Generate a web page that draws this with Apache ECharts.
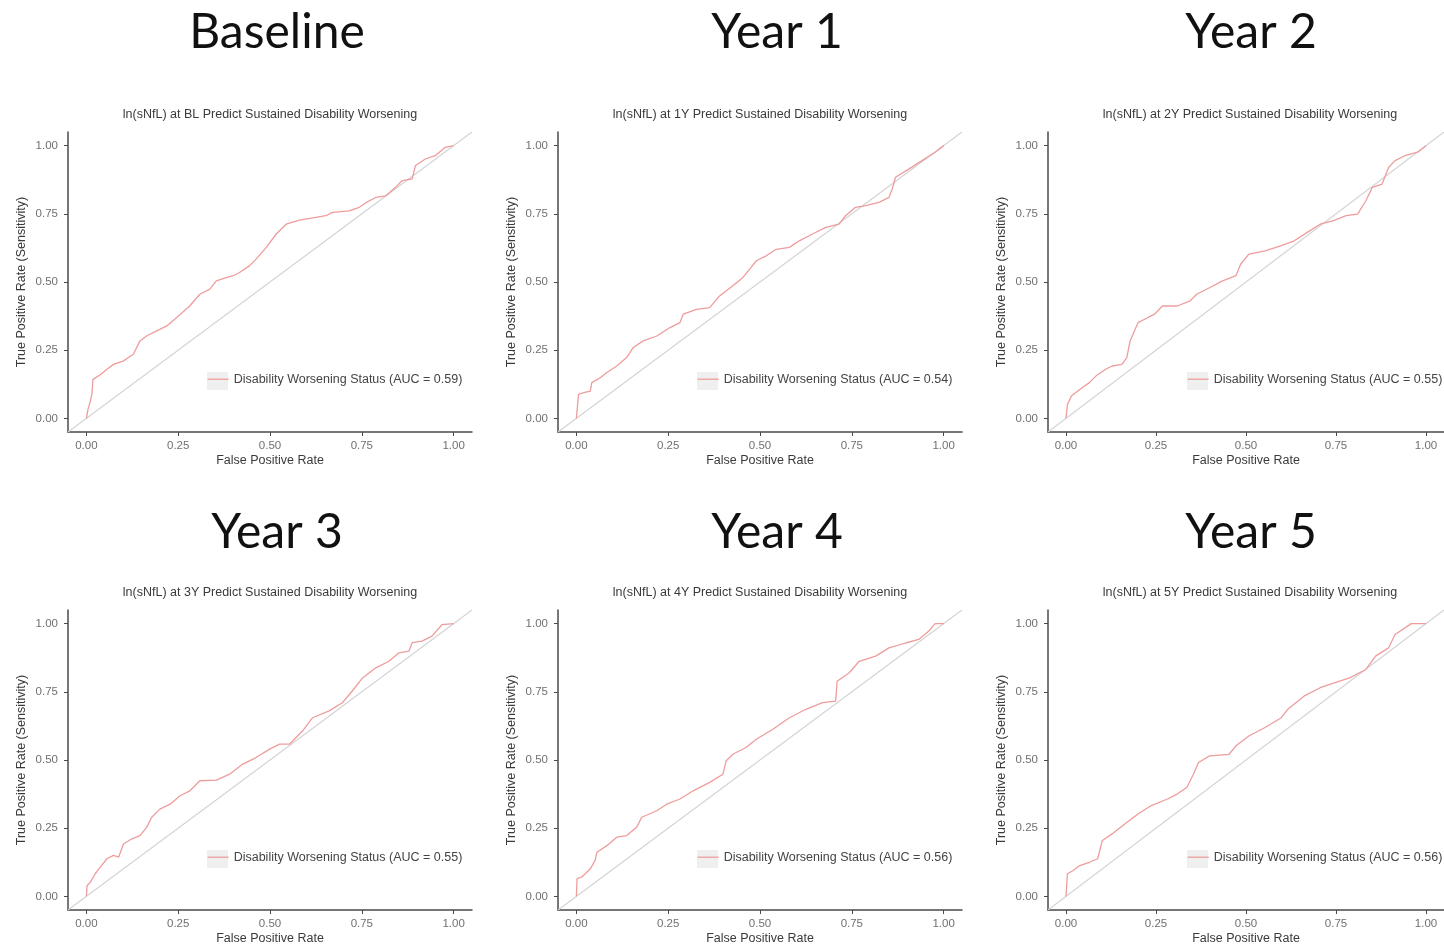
<!DOCTYPE html>
<html><head><meta charset="utf-8">
<script src="https://cdn.jsdelivr.net/npm/echarts@6/dist/echarts.min.js"></script>
<style>html,body{margin:0;padding:0;background:#fff;overflow:hidden}#c{width:1444px;height:949px}</style>
</head><body><div id="c"></div>
<script>
// ---------- data ----------
const panelTitles = ['Baseline', 'Year 1', 'Year 2', 'Year 3', 'Year 4', 'Year 5'];
const subtitles = [
  'ln(sNfL) at BL Predict Sustained Disability Worsening',
  'ln(sNfL) at 1Y Predict Sustained Disability Worsening',
  'ln(sNfL) at 2Y Predict Sustained Disability Worsening',
  'ln(sNfL) at 3Y Predict Sustained Disability Worsening',
  'ln(sNfL) at 4Y Predict Sustained Disability Worsening',
  'ln(sNfL) at 5Y Predict Sustained Disability Worsening'
];
const legendLabels = [
  'Disability Worsening Status (AUC = 0.59)',
  'Disability Worsening Status (AUC = 0.54)',
  'Disability Worsening Status (AUC = 0.55)',
  'Disability Worsening Status (AUC = 0.55)',
  'Disability Worsening Status (AUC = 0.56)',
  'Disability Worsening Status (AUC = 0.56)'
];
const xAxisTitle = 'False Positive Rate';
const yAxisTitle = 'True Positive Rate (Sensitivity)';
const tickValues = [0, 0.25, 0.5, 0.75, 1];
const tickLabels = ['0.00', '0.25', '0.50', '0.75', '1.00'];
const axisRange = [-0.05, 1.05];
const diagonal = [[-0.05, -0.05], [1.05, 1.05]];

const rocBaseline = [[0,0],[0.004,0.03],[0.011,0.064],[0.015,0.088],[0.018,0.143],[0.038,0.16],[0.056,0.18],[0.074,0.198],[0.10,0.21],[0.128,0.235],[0.146,0.284],[0.164,0.302],[0.19,0.32],[0.219,0.339],[0.246,0.37],[0.28,0.41],[0.309,0.455],[0.336,0.474],[0.354,0.504],[0.381,0.516],[0.40,0.523],[0.417,0.535],[0.444,0.559],[0.462,0.584],[0.49,0.627],[0.517,0.676],[0.544,0.712],[0.58,0.727],[0.625,0.737],[0.652,0.743],[0.67,0.755],[0.715,0.761],[0.743,0.774],[0.76,0.79],[0.788,0.81],[0.815,0.816],[0.842,0.847],[0.86,0.872],[0.887,0.878],[0.896,0.927],[0.923,0.951],[0.95,0.963],[0.977,0.994],[1,1]];
const rocYear1 = [[0,0],[0.006,0.088],[0.02,0.094],[0.038,0.10],[0.042,0.131],[0.065,0.149],[0.083,0.168],[0.11,0.192],[0.137,0.223],[0.155,0.26],[0.182,0.284],[0.219,0.302],[0.255,0.333],[0.282,0.351],[0.291,0.382],[0.327,0.40],[0.363,0.406],[0.39,0.449],[0.426,0.486],[0.453,0.516],[0.472,0.547],[0.49,0.578],[0.517,0.596],[0.544,0.62],[0.58,0.627],[0.607,0.651],[0.643,0.676],[0.679,0.70],[0.715,0.712],[0.733,0.743],[0.76,0.774],[0.788,0.78],[0.824,0.792],[0.851,0.81],[0.86,0.841],[0.869,0.884],[0.905,0.914],[0.941,0.945],[0.977,0.976],[1,1]];
const rocYear2 = [[0,0],[0.004,0.051],[0.015,0.082],[0.038,0.106],[0.065,0.131],[0.083,0.155],[0.11,0.18],[0.128,0.192],[0.155,0.198],[0.169,0.223],[0.178,0.284],[0.2,0.351],[0.228,0.37],[0.246,0.382],[0.268,0.412],[0.309,0.412],[0.345,0.431],[0.363,0.455],[0.40,0.48],[0.435,0.504],[0.472,0.523],[0.485,0.565],[0.508,0.602],[0.553,0.614],[0.598,0.633],[0.634,0.651],[0.67,0.682],[0.706,0.712],[0.743,0.725],[0.778,0.743],[0.81,0.749],[0.833,0.798],[0.851,0.847],[0.878,0.859],[0.896,0.92],[0.914,0.945],[0.941,0.963],[0.977,0.976],[1,1]];
const rocYear3 = [[0,0],[0.002,0.04],[0.011,0.052],[0.024,0.083],[0.038,0.107],[0.056,0.138],[0.074,0.15],[0.088,0.144],[0.101,0.192],[0.124,0.211],[0.146,0.223],[0.164,0.253],[0.178,0.29],[0.2,0.32],[0.228,0.338],[0.255,0.369],[0.282,0.387],[0.309,0.424],[0.354,0.426],[0.39,0.448],[0.426,0.485],[0.462,0.509],[0.499,0.54],[0.526,0.558],[0.553,0.558],[0.589,0.607],[0.616,0.655],[0.661,0.68],[0.697,0.71],[0.724,0.753],[0.752,0.801],[0.788,0.838],[0.824,0.862],[0.851,0.893],[0.878,0.899],[0.887,0.93],[0.914,0.936],[0.941,0.954],[0.968,0.996],[1,1]];
const rocYear4 = [[0,0],[0.002,0.065],[0.015,0.071],[0.038,0.101],[0.051,0.132],[0.056,0.162],[0.083,0.186],[0.11,0.217],[0.137,0.223],[0.164,0.253],[0.178,0.29],[0.219,0.314],[0.246,0.338],[0.282,0.357],[0.318,0.387],[0.363,0.418],[0.399,0.448],[0.408,0.497],[0.426,0.521],[0.462,0.546],[0.49,0.576],[0.535,0.613],[0.58,0.655],[0.625,0.686],[0.67,0.71],[0.706,0.716],[0.71,0.789],[0.743,0.82],[0.77,0.862],[0.815,0.881],[0.851,0.911],[0.896,0.929],[0.932,0.942],[0.959,0.972],[0.977,1.0],[1,1]];
const rocYear5 = [[0,0],[0.004,0.083],[0.02,0.095],[0.038,0.113],[0.065,0.125],[0.088,0.138],[0.101,0.205],[0.128,0.229],[0.164,0.266],[0.2,0.302],[0.237,0.333],[0.282,0.357],[0.309,0.375],[0.336,0.40],[0.354,0.448],[0.368,0.491],[0.399,0.515],[0.453,0.521],[0.472,0.552],[0.508,0.588],[0.553,0.619],[0.598,0.655],[0.616,0.686],[0.661,0.734],[0.706,0.765],[0.76,0.789],[0.788,0.801],[0.833,0.832],[0.86,0.881],[0.896,0.911],[0.914,0.96],[0.959,1.0],[1,1]];
const rocCurves = [rocBaseline, rocYear1, rocYear2, rocYear3, rocYear4, rocYear5];

// ---------- layout ----------
const colLeft = [68, 558, 1048];
const colTitleX = [277, 777, 1251];
const rowTop = [132, 610];
const rowTitleY = [33, 533];
const rowSubY = [115, 593];
const gridW = 404, gridH = 300;
const curveColor = '#EE9C9C';
const diagColor = '#D4D4D4';
const axisColor = '#4a4a4a';
const textFont = 'Liberation Sans';

const grids = [], xAxes = [], yAxes = [], series = [], titles = [], legends = [], graphics = [];
for (let i = 0; i < 6; i++) {
  const r = Math.floor(i / 3), c = i % 3;
  const left = colLeft[c], top = rowTop[r];
  grids.push({ left: left, top: top, width: gridW, height: gridH });
  const axisCommon = {
    type: 'value', min: axisRange[0], max: axisRange[1], gridIndex: i,
    splitLine: { show: false },
    axisLine: { show: true, onZero: false, lineStyle: { color: axisColor, width: 1.5 } },
    axisTick: { show: true, length: 4, customValues: tickValues, lineStyle: { color: axisColor, width: 1 } },
    axisLabel: {
      customValues: tickValues,
      formatter: v => { const k = tickValues.indexOf(v); return k >= 0 ? tickLabels[k] : ''; },
      color: '#707070', fontSize: 11.5, fontFamily: textFont
    },
    nameLocation: 'middle',
    nameTextStyle: { color: '#3a3a3a', fontSize: 12.5, fontFamily: textFont }
  };
  xAxes.push(Object.assign({}, axisCommon, {
    name: xAxisTitle, nameGap: 22,
    axisLabel: Object.assign({}, axisCommon.axisLabel, { margin: 8 })
  }));
  yAxes.push(Object.assign({}, axisCommon, {
    name: yAxisTitle, nameGap: 40,
    axisLabel: Object.assign({}, axisCommon.axisLabel, { margin: 10 })
  }));
  series.push({
    type: 'line', name: '__diag' + i, xAxisIndex: i, yAxisIndex: i,
    data: diagonal, symbol: 'none', silent: true,
    lineStyle: { color: diagColor, width: 1.2 }, itemStyle: { color: diagColor }, z: 1
  });
  series.push({
    type: 'line', name: legendLabels[i], xAxisIndex: i, yAxisIndex: i,
    data: rocCurves[i], symbol: 'none',
    lineStyle: { color: curveColor, width: 1.3 }, itemStyle: { color: curveColor }, z: 2
  });
  titles.push({
    text: panelTitles[i], left: colTitleX[c], top: rowTitleY[r], padding: 0,
    textAlign: 'center', textVerticalAlign: 'middle',
    textStyle: { fontFamily: 'Lato', fontSize: 48, fontWeight: 'normal', color: '#111' }
  });
  titles.push({
    text: subtitles[i], left: left + gridW / 2, top: rowSubY[r], padding: 0,
    textAlign: 'center', textVerticalAlign: 'middle',
    textStyle: { fontFamily: textFont, fontSize: 12.5, fontWeight: 'normal', color: '#3a3a3a' }
  });
  const legTop = top + 240;
  legends.push({
    data: [legendLabels[i]], left: left + 139, top: legTop,
    orient: 'horizontal', itemWidth: 21, itemHeight: 18, itemGap: 5, padding: 0,
    selectedMode: false,
    itemStyle: { color: 'rgba(0,0,0,0)', opacity: 0, borderWidth: 0 },
    lineStyle: { color: curveColor, width: 1.3 },
    textStyle: { fontFamily: textFont, fontSize: 12.5, color: '#444' }
  });
  graphics.push({
    type: 'rect', left: left + 139, top: legTop, z: -1, silent: true,
    shape: { width: 21, height: 18 }, style: { fill: '#EFEFEF' }
  });
}

const chart = echarts.init(document.getElementById('c'), null, { renderer: 'canvas' });
chart.setOption({
  backgroundColor: '#fff',
  animation: false,
  title: titles,
  grid: grids,
  xAxis: xAxes,
  yAxis: yAxes,
  legend: legends,
  graphic: graphics,
  series: series
});
</script>
</body></html>
